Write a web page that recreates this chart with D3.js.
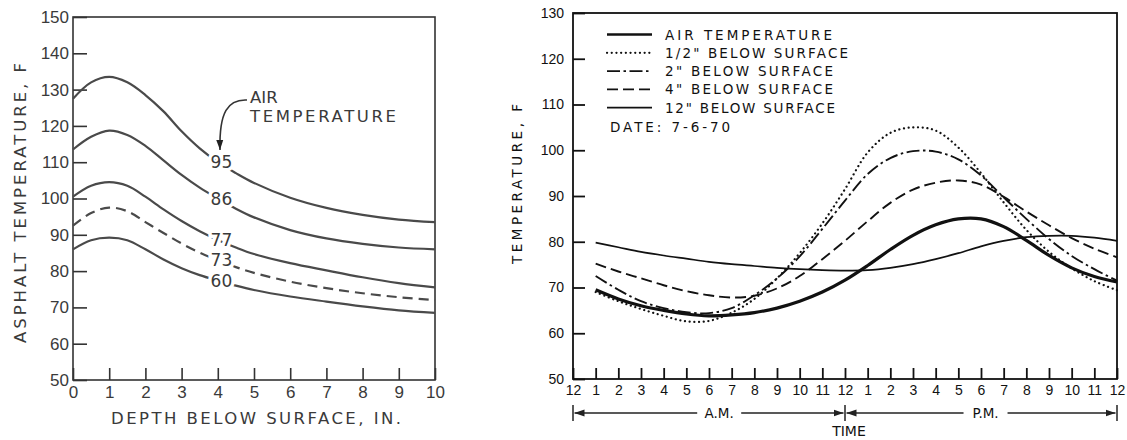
<!DOCTYPE html>
<html>
<head>
<meta charset="utf-8">
<script src="https://cdn.jsdelivr.net/npm/d3@7"></script>
<style>
  body { margin: 0; background: #fff; }
  svg { display: block; font-family: "DejaVu Sans", sans-serif; }
</style>
</head>
<body>
<svg id="svg" width="1127" height="440"></svg>
<script>
/* global d3 */

// ---- left chart: asphalt temperature vs depth, one curve per air temperature
const depths = [0, 0.5, 1, 1.5, 2, 2.5, 3, 3.5, 4, 4.5, 5, 6, 7, 8, 9, 10];
const air95 = [127.5, 132, 133.5, 132, 128.5, 124, 118.5, 113.8, 110, 107, 104.3, 100.2, 97.4, 95.5, 94.2, 93.5];
const air86 = [113.5, 117, 118.7, 117.5, 114.5, 110.5, 106.5, 103, 100, 97.2, 94.8, 91.3, 89, 87.5, 86.5, 86];
const air77 = [100.5, 103.5, 104.5, 103.5, 100.5, 97, 93.8, 91, 88.6, 86.5, 84.7, 82.2, 80.2, 78.3, 76.7, 75.5];
const air73 = [92.5, 96, 97.5, 96.5, 93.5, 90.5, 87.6, 85.1, 83, 81.1, 79.5, 77.1, 75.3, 73.9, 72.8, 72];
const air60 = [86, 88.5, 89.2, 88.5, 86, 83.2, 80.8, 78.9, 77.4, 76, 74.8, 73, 71.6, 70.3, 69.2, 68.5];
const depthTicks = [0, 1, 2, 3, 4, 5, 6, 7, 8, 9, 10];
const asphaltTicks = [50, 60, 70, 80, 90, 100, 110, 120, 130, 140, 150];

// ---- right chart: temperatures over the day, 7-6-70
const hours = [1, 2, 3, 4, 5, 6, 7, 8, 9, 10, 11, 12, 13, 14, 15, 16, 17, 18, 19, 20, 21, 22, 23, 24];
const airTemp = [69.5, 67.5, 66, 65, 64.2, 63.8, 64, 64.5, 65.5, 67, 69, 71.6, 74.8, 78.3, 81.4, 83.7, 85, 85, 83.3, 80.3, 77, 74.3, 72.4, 71.2];
const halfInch = [69, 67, 65.3, 63.8, 62.6, 62.7, 64.5, 67.5, 72, 77.5, 84, 91.5, 99.5, 103.8, 105, 104.3, 100.6, 95, 88.6, 82.6, 77.8, 74.2, 71.4, 69.4];
const twoInch = [72.5, 69.5, 67, 65.5, 64.6, 64.4, 65.5, 68.3, 72, 76.8, 82.8, 89, 94.8, 98.3, 99.8, 99.7, 98, 94.5, 89.7, 85, 80.6, 76.9, 74, 71.5];
const fourInch = [75.2, 73.5, 72, 70.5, 69.2, 68.3, 67.8, 68.2, 69.8, 72.5, 76.2, 80.2, 84.5, 88.5, 91.4, 92.9, 93.4, 92.5, 89.8, 86.6, 83.6, 80.8, 78.5, 76.6];
const twelveInch = [79.8, 78.8, 77.8, 77, 76.3, 75.6, 75.1, 74.7, 74.3, 74, 73.8, 73.7, 73.8, 74.3, 75.1, 76.2, 77.5, 79, 80.2, 81, 81.3, 81.3, 80.9, 80.2];
const hourTicks = d3.range(0, 25);
const hourLabels = ["12", "1", "2", "3", "4", "5", "6", "7", "8", "9", "10", "11",
  "12", "1", "2", "3", "4", "5", "6", "7", "8", "9", "10", "11", "12"];
const tempTicks = [50, 60, 70, 80, 90, 100, 110, 120, 130];
const legendNames = ["AIR TEMPERATURE", "1/2\" BELOW SURFACE", "2\" BELOW SURFACE",
  "4\" BELOW SURFACE", "12\" BELOW SURFACE"];

const svg = d3.select("#svg");

svg.append("defs").append("marker")
  .attr("id", "arrow")
  .attr("viewBox", "0 0 10 10")
  .attr("refX", 10).attr("refY", 5)
  .attr("markerWidth", 10).attr("markerHeight", 10)
  .attr("markerUnits", "userSpaceOnUse")
  .attr("orient", "auto")
  .append("path")
  .attr("d", "M0,1.5L10,5L0,8.5Z")
  .attr("fill", "#222");

// ================= LEFT =================
const xD = d3.scaleLinear().domain([0, 10]).range([73, 435]);
const yA = d3.scaleLinear().domain([50, 150]).range([380, 17]);
const left = svg.append("g").attr("fill", "#3a3a3a");

left.append("rect")
  .attr("x", xD(0)).attr("y", yA(150))
  .attr("width", xD(10) - xD(0)).attr("height", yA(50) - yA(150))
  .attr("fill", "none").attr("stroke", "#333").attr("stroke-width", 1.6);

const axL = left.append("g")
  .attr("transform", `translate(${xD(0)},0)`)
  .call(d3.axisLeft(yA).tickValues(asphaltTicks).tickSize(-14).tickPadding(4));
const axB = left.append("g")
  .attr("transform", `translate(0,${yA(50)})`)
  .call(d3.axisBottom(xD).tickValues(depthTicks).tickSize(-12).tickPadding(6));
[axL, axB].forEach(a => {
  a.select(".domain").remove();
  a.selectAll("line").attr("stroke", "#333").attr("stroke-width", 1.6);
  a.selectAll("text").attr("font-size", 17).attr("fill", "#3a3a3a");
});

const lineD = d3.line()
  .x((d, i) => xD(depths[i]))
  .y(d => yA(d))
  .curve(d3.curveCatmullRom.alpha(0.5));

const asphaltCurves = [
  { v: air95, label: "95", dash: null },
  { v: air86, label: "86", dash: null },
  { v: air77, label: "77", dash: null },
  { v: air73, label: "73", dash: "10,6" },
  { v: air60, label: "60", dash: null }
];

left.selectAll(".curve")
  .data(asphaltCurves)
  .join("path")
  .attr("class", "curve")
  .attr("d", d => lineD(d.v))
  .attr("fill", "none")
  .attr("stroke", "#4a4a4a")
  .attr("stroke-width", 2.2)
  .attr("stroke-dasharray", d => d.dash);

left.selectAll(".clabel")
  .data(asphaltCurves)
  .join("text")
  .attr("class", "clabel")
  .attr("x", xD(4.1))
  .attr("y", d => yA(d.v[8]) + 6)
  .attr("text-anchor", "middle")
  .attr("font-size", 17)
  .attr("stroke", "#fff").attr("stroke-width", 7)
  .attr("paint-order", "stroke")
  .text(d => d.label);

left.append("text").attr("x", 250).attr("y", 103).attr("font-size", 16.5).text("AIR");
left.append("text").attr("x", 250).attr("y", 122).attr("font-size", 16.5)
  .attr("textLength", 146).text("TEMPERATURE");
left.append("path")
  .attr("d", "M247,100C228,99 219,112 220,150")
  .attr("fill", "none").attr("stroke", "#333").attr("stroke-width", 1.6)
  .attr("marker-end", "url(#arrow)");

left.append("text")
  .attr("x", (xD(0) + xD(10)) / 2 + 2).attr("y", 424)
  .attr("text-anchor", "middle").attr("font-size", 16.5)
  .attr("textLength", 290)
  .text("DEPTH BELOW SURFACE, IN.");
left.append("text")
  .attr("transform", "translate(26,203) rotate(-90)")
  .attr("text-anchor", "middle").attr("font-size", 16.5)
  .attr("textLength", 280)
  .text("ASPHALT TEMPERATURE, F");

// ================= RIGHT =================
const xT = d3.scaleLinear().domain([0, 24]).range([573, 1117]);
const yT = d3.scaleLinear().domain([50, 130]).range([379, 13]);
const right = svg.append("g").attr("fill", "#111");

right.append("rect")
  .attr("x", xT(0)).attr("y", yT(130))
  .attr("width", xT(24) - xT(0)).attr("height", yT(50) - yT(130))
  .attr("fill", "none").attr("stroke", "#111").attr("stroke-width", 1.8);

const axRL = right.append("g")
  .attr("transform", `translate(${xT(0)},0)`)
  .call(d3.axisLeft(yT).tickValues(tempTicks).tickSize(-12).tickPadding(9));
const axRB = right.append("g")
  .attr("transform", `translate(0,${yT(50)})`)
  .call(d3.axisBottom(xT).tickValues(hourTicks).tickSize(-11).tickPadding(6)
    .tickFormat((d, i) => hourLabels[i]));
[axRL, axRB].forEach(a => {
  a.select(".domain").remove();
  a.selectAll("line").attr("stroke", "#111").attr("stroke-width", 1.8);
  a.selectAll("text").attr("font-size", 14).attr("fill", "#111");
});

const lineT = d3.line()
  .x((d, i) => xT(hours[i]))
  .y(d => yT(d))
  .curve(d3.curveCatmullRom.alpha(0.5));

const series = [
  { v: airTemp, w: 3.2, dash: null, cap: "butt" },
  { v: halfInch, w: 2.2, dash: "0.1,4.6", cap: "round" },
  { v: twoInch, w: 1.9, dash: "13,3.5,2.5,3.5", cap: "butt" },
  { v: fourInch, w: 1.9, dash: "11,5", cap: "butt" },
  { v: twelveInch, w: 1.7, dash: null, cap: "butt" }
];

right.selectAll(".series")
  .data(series)
  .join("path")
  .attr("class", "series")
  .attr("d", d => lineT(d.v))
  .attr("fill", "none")
  .attr("stroke", "#111")
  .attr("stroke-width", d => d.w)
  .attr("stroke-dasharray", d => d.dash)
  .attr("stroke-linecap", d => d.cap);

// legend
const leg = right.selectAll(".leg")
  .data(series)
  .join("g")
  .attr("class", "leg")
  .attr("transform", (d, i) => `translate(607,${34.5 + i * 18.3})`);
leg.append("line")
  .attr("x1", 0).attr("x2", 45)
  .attr("stroke", "#111")
  .attr("stroke-width", d => Math.min(d.w, 2.6))
  .attr("stroke-dasharray", d => d.dash)
  .attr("stroke-linecap", d => d.cap);
leg.append("text")
  .attr("x", 58).attr("y", 5)
  .attr("font-size", 13.5)
  .attr("textLength", (d, i) => [167, 183, 168, 168, 170][i])
  .text((d, i) => legendNames[i]);
right.append("text")
  .attr("x", 610).attr("y", 132)
  .attr("font-size", 13.5).attr("textLength", 120)
  .text("DATE: 7-6-70");

right.append("text")
  .attr("transform", "translate(522,184) rotate(-90)")
  .attr("text-anchor", "middle").attr("font-size", 13.5)
  .attr("textLength", 160)
  .text("TEMPERATURE, F");

// A.M. / P.M. span arrows
const yr = 413;
const spans = [
  { a: 0, b: 12, label: "A.M.", c: 6.45 },
  { a: 12, b: 24, label: "P.M.", c: 18.2 }
];
spans.forEach(s => {
  const cx = xT(s.c);
  right.append("text")
    .attr("x", cx).attr("y", yr + 5)
    .attr("text-anchor", "middle").attr("font-size", 13.5)
    .text(s.label);
  right.append("line")
    .attr("x1", cx - 22).attr("x2", xT(s.a) + 1.5)
    .attr("y1", yr).attr("y2", yr)
    .attr("stroke", "#222").attr("stroke-width", 1.3)
    .attr("marker-end", "url(#arrow)");
  right.append("line")
    .attr("x1", cx + 22).attr("x2", xT(s.b) - 1.5)
    .attr("y1", yr).attr("y2", yr)
    .attr("stroke", "#222").attr("stroke-width", 1.3)
    .attr("marker-end", "url(#arrow)");
});
[0, 12, 24].forEach(h => {
  right.append("line")
    .attr("x1", xT(h)).attr("x2", xT(h))
    .attr("y1", yr - 8).attr("y2", yr + 8)
    .attr("stroke", "#222").attr("stroke-width", 1.5);
});
right.append("text")
  .attr("x", xT(12) + 4).attr("y", 436)
  .attr("text-anchor", "middle").attr("font-size", 14)
  .text("TIME");
</script>
</body>
</html>
